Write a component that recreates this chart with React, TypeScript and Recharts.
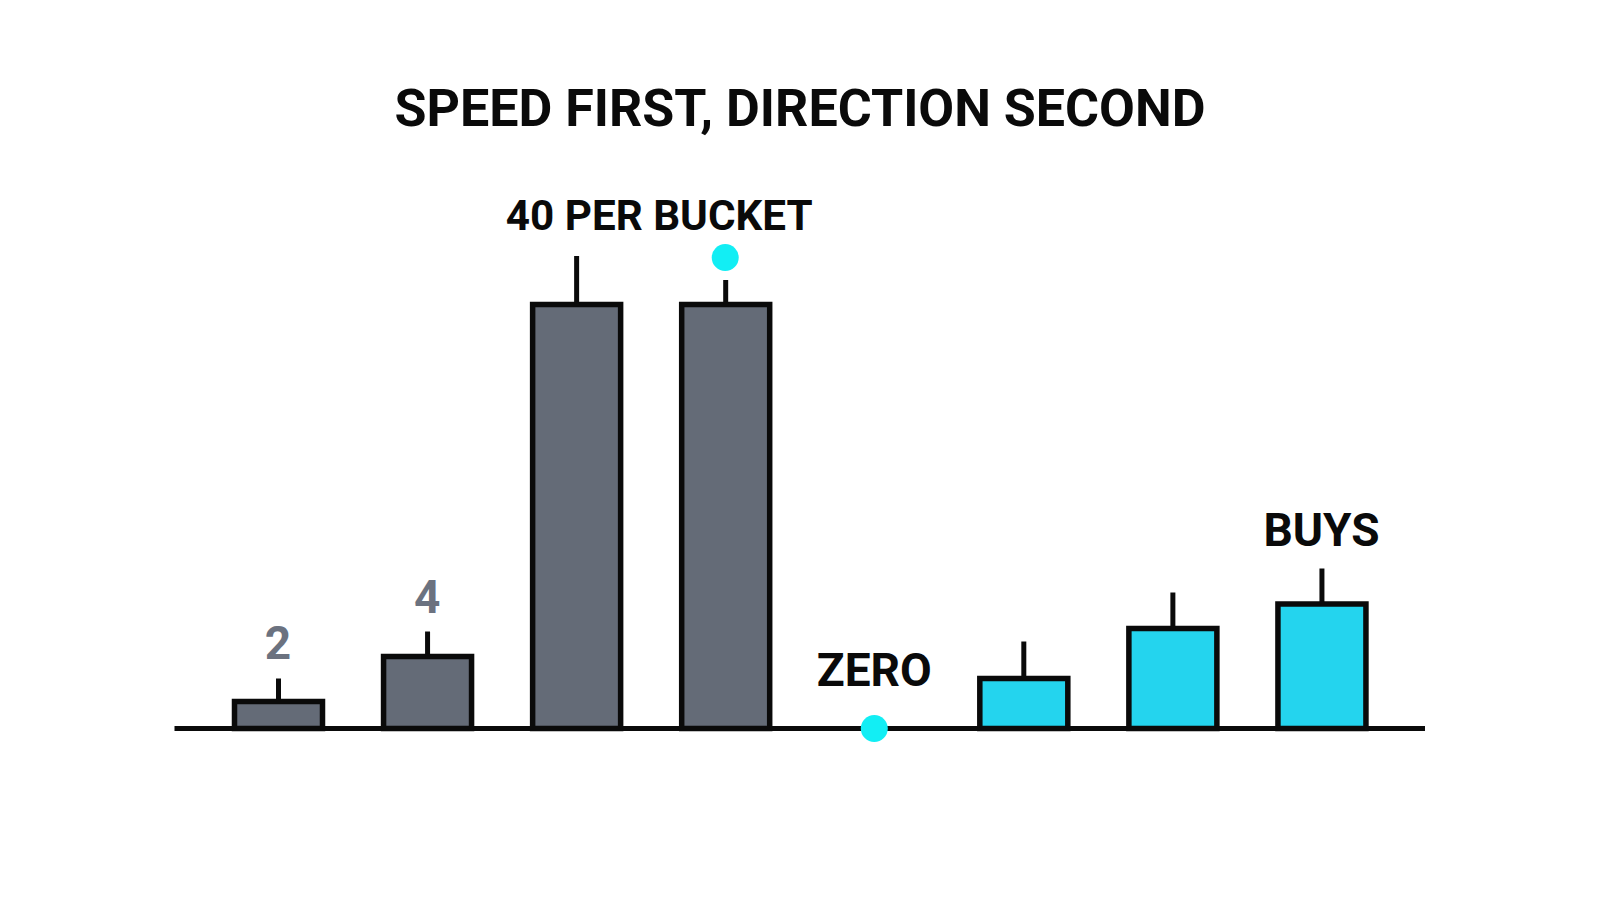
import React from 'react';
import { ComposedChart, Bar, XAxis, YAxis, Cell, ErrorBar, ReferenceDot } from 'recharts';

const categories = ['b1', 'b2', 'b3', 'b4', 'b5', 'b6', 'b7', 'b8'];
const bodyValues = [2.7, 7.2, 42.4, 42.4, 0, 5.0, 10.0, 12.45];
const highValues = [5.0, 9.7, 47.25, 44.85, 0, 8.7, 13.6, 16.0];
const barSides = ['sell', 'sell', 'sell', 'sell', 'none', 'buy', 'buy', 'buy'];

const annotationTexts = ['2', '4', '40 PER BUCKET', 'ZERO', 'BUYS'];
const annotationCategories = ['b1', 'b2', 'b4', 'b5', 'b8'];
const annotationValues = [8.55, 13.2, 51.35, 5.85, 19.85];
const annotationTones = ['muted', 'muted', 'dark', 'dark', 'dark'];

const dotCategories = ['b4', 'b5'];
const dotValues = [47.1, 0];

const title = 'SPEED FIRST, DIRECTION SECOND';

const sideColor: Record<string, string> = { sell: '#646b77', buy: '#24d4ee', none: '#646b77' };
const toneColor: Record<string, string> = { muted: '#6b7280', dark: '#0a0a0a' };

const data = categories.map((c, i) => ({
  cat: c,
  body: bodyValues[i],
  wick: [0, Math.max(0, highValues[i] - bodyValues[i])],
}));

const FONT = 'Roboto, "Noto Sans", sans-serif';

export default function App() {
  return (
    <div style={{ position: 'absolute', left: 0, top: 0, width: 1600, height: 914, background: '#ffffff' }}>
      <div
        style={{
          position: 'absolute',
          left: 0,
          top: 82.7,
          width: 1600,
          textAlign: 'center',
          fontFamily: FONT,
          fontWeight: 700,
          fontSize: 52,
          lineHeight: '52px',
          color: '#0a0a0a',
        }}
      >
        {title}
      </div>
      <ComposedChart
        width={1600}
        height={914}
        data={data}
        margin={{ top: 128.5, right: 175, bottom: 184.5, left: 174.5 }}
      >
        <XAxis
          dataKey="cat"
          tick={false}
          tickLine={false}
          height={1}
          padding={{ left: 29, right: 29 }}
          axisLine={{ stroke: '#0a0a0a', strokeWidth: 5 }}
        />
        <YAxis hide domain={[0, 60]} />
        <Bar dataKey="body" barSize={88} stroke="#0a0a0a" strokeWidth={5.5} isAnimationActive={false}>
          {data.map((d, i) => (
            <Cell key={d.cat} fill={sideColor[barSides[i]]} />
          ))}
          <ErrorBar dataKey="wick" direction="y" width={0} stroke="#0a0a0a" strokeWidth={5} isAnimationActive={false} />
        </Bar>
        {dotCategories.map((c, i) => (
          <ReferenceDot key={'dot' + i} x={c} y={dotValues[i]} r={13.5} fill="#12eef4" stroke="none" ifOverflow="visible" />
        ))}
        {annotationTexts.map((t, i) => (
          <ReferenceDot
            key={'ann' + i}
            x={annotationCategories[i]}
            y={annotationValues[i]}
            r={0}
            fill="none"
            stroke="none"
            ifOverflow="visible"
            label={{
              value: t,
              position: 'center',
              fill: toneColor[annotationTones[i]],
              fontFamily: FONT,
              fontWeight: 700,
              fontSize: i === 2 ? 42.2 : 46,
              dx: i === 2 ? -66 : 0,
            }}
          />
        ))}
      </ComposedChart>
    </div>
  );
}
